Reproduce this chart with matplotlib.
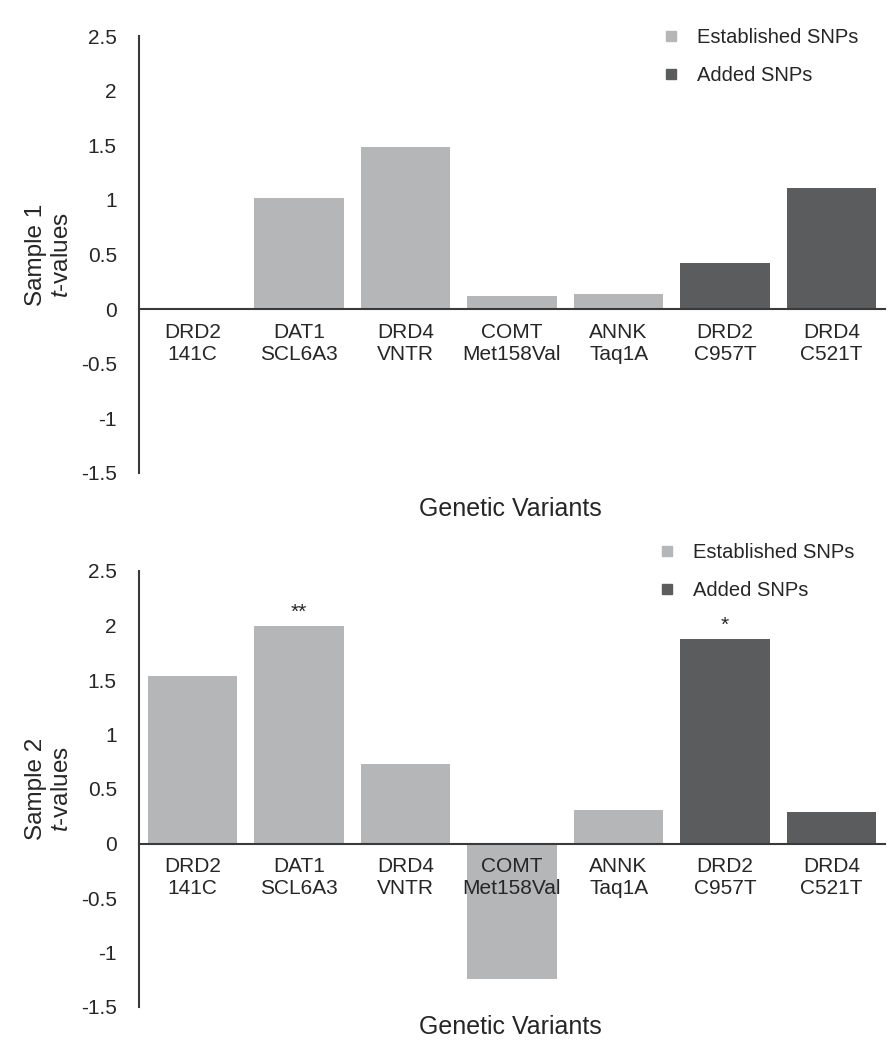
import matplotlib
matplotlib.use("Agg")
import matplotlib.pyplot as plt
from matplotlib.lines import Line2D

plt.rcParams['font.family'] = ['Liberation Sans', 'DejaVu Sans']
plt.rcParams['mathtext.fontset'] = 'custom'
plt.rcParams['mathtext.it'] = 'Liberation Sans:italic'
plt.rcParams['mathtext.rm'] = 'Liberation Sans'

categories = ["DRD2\n141C", "DAT1\nSCL6A3", "DRD4\nVNTR", "COMT\nMet158Val",
              "ANNK\nTaq1A", "DRD2\nC957T", "DRD4\nC521T"]
groups = ["Established", "Established", "Established", "Established",
          "Established", "Added", "Added"]
sample1 = [0.0, 1.02, 1.48, 0.12, 0.14, 0.42, 1.11]
sample2 = [1.54, 2.00, 0.73, -1.24, 0.31, 1.88, 0.29]
sample2_sig = ["", "**", "", "", "", "*", ""]
sample1_sig = ["", "", "", "", "", "", ""]
yticks = [-1.5, -1, -0.5, 0, 0.5, 1, 1.5, 2, 2.5]
ytick_labels = ["-1.5", "-1", "-0.5", "0", "0.5", "1", "1.5", "2", "2.5"]
legend_labels = ["Established SNPs", "Added SNPs"]

LIGHT = "#b5b6b8"
DARK = "#5b5c5e"
TEXT = "#262626"
AXC = "#3a3a3a"
colors = {"Established": LIGHT, "Added": DARK}

W, H = 890, 1042
fig = plt.figure(figsize=(W / 100, H / 100), dpi=100)

def px_rect(l, t, r, b):
    return [l / W, 1 - b / H, (r - l) / W, (b - t) / H]

panels = [
    (sample1, sample1_sig, "Sample 1", px_rect(139, 36, 885, 473), 509, (663, 28)),
    (sample2, sample2_sig, "Sample 2", px_rect(139, 571, 885, 1007), 1027, (659, 543)),
]

for vals, sig, name, rect, xlab_y, leg_xy in panels:
    ax = fig.add_axes(rect)
    x = list(range(len(categories)))
    bar_colors = [colors[g] for g in groups]
    ax.bar(x, vals, width=0.84, color=bar_colors, zorder=1)
    ax.set_axisbelow(False)
    ax.set_xlim(-0.5, len(categories) - 0.5)
    ax.set_ylim(-1.5, 2.5)
    ax.set_yticks(yticks)
    ax.set_yticklabels(ytick_labels)
    ax.set_xticks(x)
    ax.set_xticklabels(categories, linespacing=1.05)
    ax.tick_params(axis='y', length=0, pad=16, labelsize=15, labelcolor=TEXT)
    ax.tick_params(axis='x', length=0, pad=10, labelsize=15, labelcolor=TEXT)
    for s in ['top', 'right']:
        ax.spines[s].set_visible(False)
    ax.spines['bottom'].set_position(('data', 0))
    ax.spines['bottom'].set_zorder(3)
    for s in ['left', 'bottom']:
        ax.spines[s].set_color(AXC)
        ax.spines[s].set_linewidth(1.5)
    for xi, v, s in zip(x, vals, sig):
        if s:
            ax.text(xi, v + 0.03, s, ha='center', va='bottom', fontsize=15, color=TEXT)
    fig.text(510 / W, 1 - xlab_y / H, "Genetic Variants", ha='center', va='center',
             fontsize=18, color=TEXT)
    cy = (rect[1] + rect[3] / 2)
    fig.text(49 / W, cy, name + "\n$\\it{t}$-values", rotation=90, ha='center',
             va='center', multialignment='center', fontsize=17.5, color=TEXT,
             linespacing=1.2)
    handles = [Line2D([], [], marker='s', linestyle='none', markersize=7.5,
                      color=LIGHT),
               Line2D([], [], marker='s', linestyle='none', markersize=7.5,
                      color=DARK)]
    leg = fig.legend(handles, legend_labels, loc='upper left',
                     bbox_to_anchor=(leg_xy[0] / W, 1 - leg_xy[1] / H),
                     frameon=False, fontsize=14.5, handlelength=0.8,
                     handletextpad=0.9, labelspacing=0.95, borderpad=0,
                     borderaxespad=0)
    for t in leg.get_texts():
        t.set_color(TEXT)

fig.savefig("out.png", dpi=100, facecolor='white')
